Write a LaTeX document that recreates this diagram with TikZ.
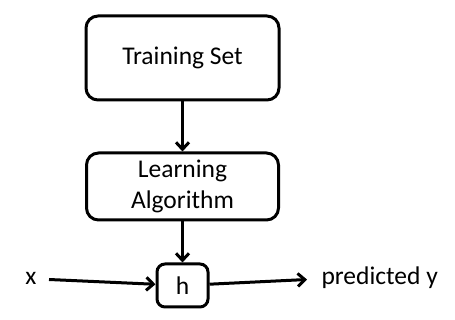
\documentclass[tikz,border=0pt]{standalone}
\usepackage{fontspec}
\setmainfont{Carlito}
\usetikzlibrary{arrows.meta,positioning}

\tikzset{
  block/.style={draw,line width=3pt,rounded corners=12pt,align=center,font=\fontsize{25.5}{31}\selectfont},
  flow/.style={line width=3pt,-{Straight Barb[length=7pt,width=13pt,line width=3pt]}},
  lbl/.style={font=\fontsize{25.5}{30}\selectfont}
}

\begin{document}
\begin{tikzpicture}[x=1pt,y=1pt]
  \useasboundingbox (0,0) rectangle (455,320);
  % boxes
  \node[block,minimum width=193pt,minimum height=84pt] (train) at (182.5,262) {Training Set};
  \node[block,minimum width=192pt,minimum height=67pt,inner sep=1pt,below=50pt of train] (learn) {Learning\\Algorithm};
  \node[block,rounded corners=8pt,minimum width=51pt,minimum height=43pt,below=41pt of learn] (hyp) {h};
  % input and output
  \node[lbl] (xin) at (31,42) {x};
  \coordinate (xstart) at (49,40.5);
  \coordinate (yend) at (307,40.5);
  \node[lbl,anchor=west] (yout) at (318,42) {predicted y};
  % arrows
  \draw[flow] (train) -- (learn);
  \draw[flow] (learn) -- (hyp);
  \draw[flow] (xstart) -- (hyp);
  \draw[flow] (hyp) -- (yend);
\end{tikzpicture}
\end{document}
